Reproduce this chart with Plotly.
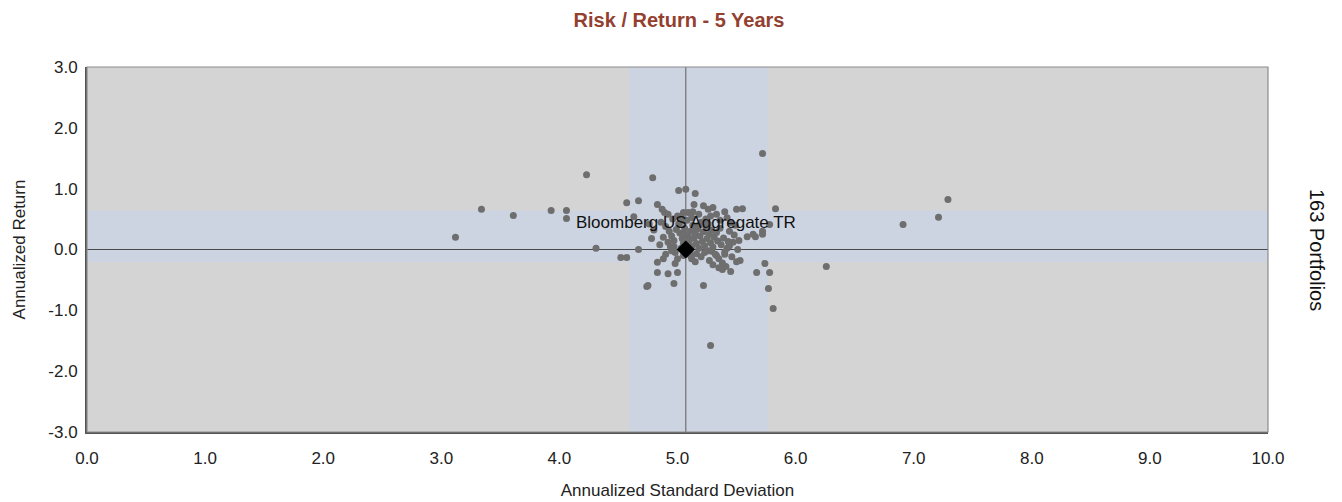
import plotly.graph_objects as go

# ============================
# data

std_dev = [
    3.12, 3.34, 3.61, 3.93, 4.06, 4.06, 4.23, 4.31, 4.52, 4.57,
    4.67, 4.57, 4.67, 4.79, 4.74, 5.72, 5.28, 6.91, 7.21, 7.29,
    6.26, 5.81, 5.77, 5.67, 5.78, 5.74, 5.83, 5.55, 5.59, 5.66,
    5.64, 5.72, 5.72, 5.78, 5.53, 5.51, 5.22, 5.45, 5.33, 4.83,
    4.88, 4.90, 4.83, 4.92, 5.00, 4.75, 4.97, 4.98, 5.00, 5.12,
    5.16, 4.97, 4.94, 5.01, 5.07, 5.15, 4.83, 4.87, 5.14, 5.22,
    5.26, 5.05, 5.09, 5.03, 5.30, 5.50, 5.33, 5.48, 5.43, 5.40,
    4.63, 4.89,
    4.86, 4.90, 4.93, 4.95, 4.97, 4.99, 5.01, 5.02, 5.04, 5.05,
    5.06, 5.08, 5.09, 5.10, 5.11, 5.12, 5.13, 5.14, 5.15, 5.16,
    5.17, 5.18, 5.19, 5.20, 5.21, 5.22, 5.23, 5.24, 5.25, 5.26,
    5.27, 5.28, 5.29, 5.30, 5.31, 5.32, 5.33, 5.34, 5.35, 5.36,
    5.37, 5.38, 5.39, 5.41, 5.42, 5.44, 5.46, 5.47, 5.49, 5.50,
    5.52, 5.35, 5.38, 5.30, 5.27, 5.20, 5.15, 5.10, 5.05, 4.98,
    4.95, 4.92, 4.88, 4.85, 4.80, 4.78, 4.76, 4.96, 5.00, 5.12,
    5.18, 5.24, 5.28, 5.36, 5.42, 5.45, 5.40, 5.13, 4.92, 5.03,
    5.08, 5.11, 5.23, 5.29, 5.40, 5.44, 5.18, 5.03, 5.14, 5.26,
    5.06,
]

ann_return = [
    0.20, 0.66, 0.56, 0.64, 0.64, 0.51, 1.23, 0.02, -0.13, -0.13,
    0.00, 0.77, 0.80, 1.18, -0.61, 1.58, -1.58, 0.41, 0.53, 0.82,
    -0.28, -0.97, -0.64, -0.38, -0.38, -0.23, 0.67, 0.67, 0.21, 0.21,
    0.25, 0.25, 0.30, 0.41, -0.18, 0.00, -0.59, -0.36, -0.10, -0.21,
    -0.15, -0.08, -0.38, -0.40, -0.38, -0.59, -0.56, -0.23, -0.15, -0.15,
    -0.07, 0.05, 0.05, 0.97, 0.99, 0.92, 0.74, 0.66, 0.74, 0.72,
    0.66, 0.61, 0.61, 0.54, 0.69, 0.66, 0.58, 0.24, 0.13, -0.04,
    0.54, 0.61,
    0.45, 0.38, 0.30, 0.22, 0.15, 0.33, 0.42, 0.27, 0.18, 0.10,
    0.35, 0.48, 0.22, 0.14, 0.30, 0.05, 0.40, 0.19, 0.27, 0.10,
    0.34, 0.02, 0.22, 0.45, 0.13, 0.29, 0.06, 0.38, 0.18, -0.02,
    0.25, 0.11, 0.32, 0.04, 0.20, -0.08, 0.28, 0.14, -0.15, 0.35,
    0.08, -0.22, 0.19, -0.28, 0.02, 0.30, -0.12, 0.12, 0.40, -0.20,
    0.15, -0.30, -0.33, -0.25, -0.18, -0.12, -0.20, -0.05, -0.10, -0.05,
    -0.02, 0.12, 0.20, 0.08, 0.32, 0.18, 0.42, 0.50, 0.55, 0.52,
    0.58, 0.50, 0.55, 0.48, 0.52, 0.44, 0.62, 0.62, 0.58, 0.02,
    0.08, -0.10, -0.05, -0.03, -0.08, 0.06, 0.40, 0.46, 0.33, 0.42,
    0.25,
]

benchmark_name = 'Bloomberg US Aggregate TR'
benchmark_std = 5.07
benchmark_ret = 0.0

# shaded bands around the benchmark
std_band = [4.59, 5.77]
ret_band = [-0.21, 0.64]

x_ticks = [0, 1, 2, 3, 4, 5, 6, 7, 8, 9, 10]
y_ticks = [-3, -2, -1, 0, 1, 2, 3]

# ============================

font_family = 'Liberation Sans, Arial, sans-serif'
band_color = '#cdd4e1'
dot_color = '#6e6e6e'

figure = go.Figure()

figure.add_trace(go.Scatter(
    x=std_dev,
    y=ann_return,
    mode='markers',
    name='Portfolios',
    marker=dict(color=dot_color, size=7, line=dict(width=0)),
    hoverinfo='x+y',
))

figure.add_trace(go.Scatter(
    x=[benchmark_std],
    y=[benchmark_ret],
    mode='markers',
    name=benchmark_name,
    marker=dict(color='black', symbol='diamond', size=14, line=dict(width=0)),
))

# bands
figure.add_shape(type='rect', xref='x', yref='paper',
                 x0=std_band[0], x1=std_band[1], y0=0, y1=1,
                 fillcolor=band_color, line_width=0, layer='below')
figure.add_shape(type='rect', xref='paper', yref='y',
                 x0=0, x1=1, y0=ret_band[0], y1=ret_band[1],
                 fillcolor=band_color, line_width=0, layer='below')

# crosshair through the benchmark
figure.add_shape(type='line', xref='x', yref='paper',
                 x0=benchmark_std, x1=benchmark_std, y0=0, y1=1,
                 line=dict(color='#707070', width=1.2), layer='below')
figure.add_shape(type='line', xref='paper', yref='y',
                 x0=0, x1=1, y0=benchmark_ret, y1=benchmark_ret,
                 line=dict(color='#4a4a4a', width=1.2), layer='below')

# frame
figure.add_shape(type='rect', xref='paper', yref='paper',
                 x0=0, x1=1, y0=0, y1=1,
                 line=dict(color='#8c8c8c', width=1.2))

figure.add_annotation(
    x=benchmark_std, y=benchmark_ret,
    text=benchmark_name,
    showarrow=False,
    yanchor='bottom',
    yshift=16,
    font=dict(size=17, color='#111111', family=font_family),
)

figure.add_annotation(
    xref='paper', yref='paper',
    x=1.042, y=0.5,
    text='163 Portfolios',
    showarrow=False,
    textangle=90,
    xanchor='center', yanchor='middle',
    font=dict(size=20, color='#111111', family=font_family),
)

figure.update_layout(dict(

    # sizing
    width=1342,
    height=502,

    # fonts
    font=dict(family=font_family, size=17, color='#222222'),

    title=dict(
        text='<b>Risk / Return - 5 Years</b>',
        x=0.5, xanchor='center',
        y=1 - 12/502, yanchor='middle',
        font=dict(size=20, color='#93402f',
                  family='Liberation Sans Narrow, Arial Narrow, sans-serif'),
    ),

    paper_bgcolor='white',
    plot_bgcolor='#d4d4d4',
    showlegend=False,

    # X axis
    xaxis=dict(
        title=dict(text='Annualized Standard Deviation', standoff=17,
                   font=dict(size=17)),
        range=[0, 10],
        tickvals=x_ticks,
        ticktext=[f'{v:.1f}' for v in x_ticks],
        showgrid=False,
        zeroline=False,
        showline=True,
        linecolor='#555555',
        linewidth=2,
        ticks='',
        ticklabelstandoff=10,
        automargin=False,
    ),

    # Y axis
    yaxis=dict(
        title=dict(text='Annualized Return', standoff=18,
                   font=dict(size=17)),
        range=[-3, 3],
        tickvals=y_ticks,
        ticktext=[f'{v:.1f}' for v in y_ticks],
        showgrid=False,
        zeroline=False,
        showline=True,
        linecolor='#555555',
        linewidth=2,
        ticks='',
        ticklabelstandoff=4,
        automargin=False,
    ),

    # margins (page adds 8px body margin)
    margin=dict(t=59, r=82, b=78, l=79),
))

figure.write_html('out.html')
